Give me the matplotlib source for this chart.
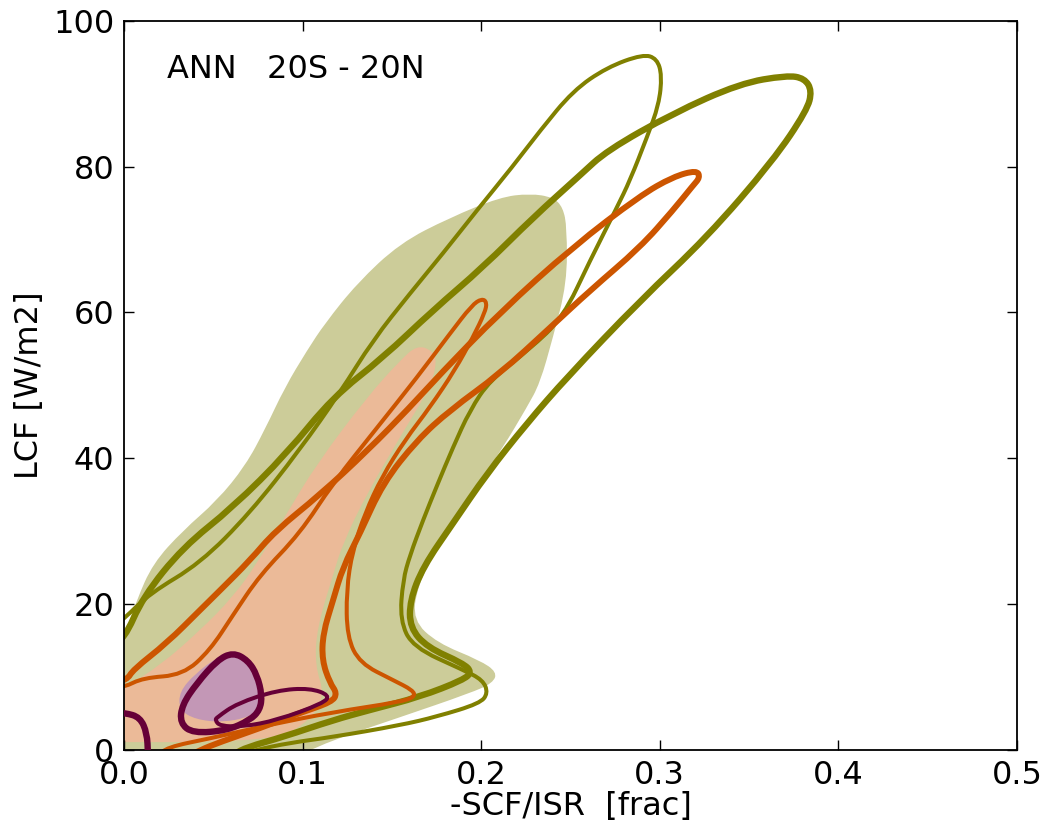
import numpy as np
import matplotlib.pyplot as plt
from matplotlib.path import Path
from matplotlib.patches import PathPatch

# colours
olive = '#808000'
orange = '#cc5500'
purple = '#660038'
khaki = '#cccc99'
salmon = '#ebba98'
lilac = '#c397b6'

# ---- shaded regions (x = -SCF/ISR, y = LCF) ----
khaki_x = [-0.02, -0.02, 0.0, 0.007, 0.0162, 0.033, 0.0521, 0.0680, 0.0790, 0.090, 0.1025, 0.1125,
           0.1305, 0.1545, 0.1825, 0.2105, 0.2273, 0.2402, 0.2458, 0.248, 0.248, 0.2402, 0.2329,
           0.2256, 0.2122, 0.1937, 0.1753, 0.1641, 0.1618, 0.1753, 0.1993, 0.2088, 0.2066, 0.1937,
           0.1545, 0.117, 0.0985, 0.05]
khaki_y = [-2, 14.0, 15.5, 20.5, 25.6, 30.1, 34.2, 39.0, 44.0, 49.7, 54.8, 58.5,
           64.0, 69.5, 73.0, 75.8, 76.3, 75.8, 74.4, 71.6, 64.0, 56.6, 50.3,
           47.0, 41.5, 34.7, 27.8, 22.3, 17.8, 14.7, 12.3, 10.7, 9.2, 7.8,
           4.5, 1.4, -0.7, -2]

salmon_x = [0.1641, 0.1725, 0.1753, 0.1713, 0.1545, 0.1361, 0.1226, 0.117, 0.1081, 0.1069, 0.1125,
            0.1041, 0.0873, 0.0426, 0.009, -0.01, -0.01, 0.0, 0.0202, 0.0426, 0.061, 0.0745,
            0.0913, 0.1081, 0.1361, 0.1545]
salmon_y = [55.5, 54.8, 53.2, 49.7, 42.9, 35.2, 28.4, 24.0, 16.8, 11.6, 7.5,
            4.1, 1.6, 1.1, 1.1, 1.1, 8.6, 8.5, 11.6, 16.4, 21.0, 25.6,
            32.5, 39.3, 48.4, 53.4]

lilac_x = [0.061, 0.0733, 0.0784, 0.077, 0.07, 0.055, 0.04, 0.031, 0.031, 0.04, 0.052]
lilac_y = [13.3, 11.2, 8.5, 6.0, 4.5, 3.8, 4.2, 5.5, 8.0, 10.5, 12.7]

# ---- contour lines ----
olive_thin_x = [-0.01, 0.0, 0.0146, 0.0426, 0.0705, 0.0985, 0.1209, 0.1394, 0.1601, 0.1786, 0.1976,
                0.2176, 0.2329, 0.2514, 0.2704, 0.2906, 0.2984, 0.3012, 0.2995, 0.2928, 0.2833,
                0.276, 0.2609, 0.2458, 0.2273, 0.2049, 0.1937, 0.1842, 0.1753, 0.1674, 0.1601,
                0.1562, 0.1545, 0.1618, 0.1898, 0.201, 0.2038, 0.1993, 0.1753, 0.1545, 0.117,
                0.0929, 0.0733, 0.065]
olive_thin_y = [16.0, 18.0, 21.5, 25.6, 32.5, 41.2, 49.0, 56.2, 62.6, 68.1, 74.0,
                80.0, 84.9, 90.4, 93.6, 95.4, 94.8, 92.5, 88.5, 84.0, 78.1,
                74.4, 67.1, 59.3, 55.0, 50.7, 46.6, 41.5, 36.3, 31.5, 26.7,
                23.3, 17.8, 14.1, 11.0, 9.6, 7.8, 6.4, 4.6, 3.4, 1.8,
                1.0, 0.0, -0.7]

olive_thick_x = [-0.01, 0.0, 0.0106, 0.033, 0.061, 0.0913, 0.117, 0.145, 0.173, 0.201, 0.229,
                 0.2553, 0.2704, 0.3074, 0.3449, 0.3712, 0.381, 0.3852, 0.3824, 0.3634, 0.3264,
                 0.2889, 0.248, 0.2256, 0.2032, 0.1842, 0.1674, 0.1601, 0.1601, 0.1697, 0.1898,
                 0.1948, 0.1898, 0.1657, 0.1377, 0.117, 0.089, 0.0689, 0.062]
olive_thick_y = [14.0, 15.1, 21.0, 27.8, 33.3, 40.7, 48.4, 53.8, 60.3, 66.2, 73.0,
                 78.8, 82.2, 87.3, 91.4, 92.5, 92.1, 90.4, 87.7, 80.8, 70.3,
                 61.6, 51.1, 44.8, 37.9, 31.1, 25.1, 20.5, 16.8, 14.1, 11.9,
                 10.7, 9.6, 7.3, 5.5, 4.1, 1.8, 0.4, -0.5]

orange_thick_x = [-0.01, 0.0017, 0.005, 0.0241, 0.0426, 0.0538, 0.0705, 0.0845, 0.1097, 0.1361,
                  0.1601, 0.1769, 0.2105, 0.2514, 0.2889, 0.3074, 0.3208, 0.3225, 0.3186, 0.3074,
                  0.2889, 0.2609, 0.2385, 0.2105, 0.1825, 0.1641, 0.145, 0.1321, 0.1226, 0.117,
                  0.1114, 0.1109, 0.1153, 0.1193, 0.1165, 0.0985, 0.0761, 0.0538, 0.0426, 0.035]
orange_thick_y = [9.0, 9.6, 11.0, 14.7, 19.2, 21.9, 26.0, 30.0, 35.0, 41.0,
                  47.0, 51.5, 60.0, 69.0, 76.0, 78.6, 79.5, 78.5, 77.4, 74.0,
                  68.9, 63.0, 57.9, 51.6, 46.6, 42.5, 36.6, 29.7, 25.1, 20.5,
                  16.0, 12.3, 9.2, 7.8, 6.6, 5.1, 3.0, 1.1, 0.0, -1.0]

orange_thin_x = [-0.01, 0.0, 0.0106, 0.033, 0.0482, 0.061, 0.0761, 0.0985, 0.117, 0.1417, 0.1641,
                 0.1825, 0.1948, 0.2004, 0.2032, 0.2021, 0.1954, 0.1853, 0.1713, 0.1573, 0.1445,
                 0.1350, 0.1280, 0.1245, 0.1249, 0.1321, 0.1506, 0.1618, 0.1629, 0.1545, 0.117,
                 0.0801, 0.0482, 0.0241, 0.018]
orange_thin_y = [8.5, 8.6, 9.9, 10.3, 13.7, 18.5, 24.0, 29.7, 36.6, 44.2, 51.1,
                 57.1, 61.0, 61.9, 61.4, 60.0, 56.6, 52.1, 47.0, 42.5, 37.5,
                 32.5, 27.4, 21.9, 15.5, 11.9, 9.6, 8.2, 7.3, 6.6, 5.2,
                 3.4, 1.6, 0.4, -1.0]

purple_thick_x = [0.061, 0.0694, 0.0745, 0.0773, 0.0761, 0.0705, 0.0577, 0.0386, 0.0314, 0.0325,
                  0.0409, 0.0521]
purple_thick_y = [13.4, 12.3, 10.3, 7.5, 5.5, 4.1, 2.7, 2.3, 3.7, 6.2, 9.2, 12.3]

purple_thin_x = [0.0521, 0.0633, 0.0857, 0.1041, 0.1153, 0.1114, 0.0857, 0.0666, 0.0538, 0.051]
purple_thin_y = [4.5, 6.4, 8.2, 8.5, 7.5, 6.4, 4.1, 3.2, 3.3, 4.1]

purple_corner_x = [-0.01, 0.0006, 0.009, 0.0129, 0.0134]
purple_corner_y = [5.3, 5.1, 4.5, 2.3, -0.5]


def smooth_path(xs, ys, closed):
    # quadratic bezier through midpoints of the given vertices
    p = np.column_stack([xs, ys])
    n = len(p)
    verts, codes = [], []
    if closed:
        m = (p + np.roll(p, -1, axis=0)) / 2.
        verts.append(m[-1]); codes.append(Path.MOVETO)
        for i in range(n):
            verts += [p[i], m[i]]
            codes += [Path.CURVE3, Path.CURVE3]
        verts.append(m[-1]); codes.append(Path.CLOSEPOLY)
    else:
        m = (p[:-1] + p[1:]) / 2.
        verts += [p[0], m[0]]
        codes += [Path.MOVETO, Path.LINETO]
        for i in range(1, n - 1):
            verts += [p[i], m[i]]
            codes += [Path.CURVE3, Path.CURVE3]
        verts.append(p[-1]); codes.append(Path.LINETO)
    return Path(verts, codes)


fig = plt.figure(figsize=(10.42, 8.27), dpi=100)
ax = fig.add_axes([0.119, 0.093, 0.857, 0.882])

ax.add_patch(PathPatch(smooth_path(khaki_x, khaki_y, True), fc=khaki, ec='none', zorder=1))
ax.add_patch(PathPatch(smooth_path(salmon_x, salmon_y, True), fc=salmon, ec='none', zorder=1.1))
ax.add_patch(PathPatch(smooth_path(lilac_x, lilac_y, True), fc=lilac, ec='none', zorder=1.2))

lines = [
    (olive_thin_x, olive_thin_y, False, olive, 2.9),
    (olive_thick_x, olive_thick_y, False, olive, 4.6),
    (orange_thin_x, orange_thin_y, False, orange, 2.9),
    (orange_thick_x, orange_thick_y, False, orange, 4.3),
    (purple_thin_x, purple_thin_y, True, purple, 2.9),
    (purple_thick_x, purple_thick_y, True, purple, 4.6),
    (purple_corner_x, purple_corner_y, False, purple, 4.6),
]
for k, (xs, ys, closed, c, lw) in enumerate(lines):
    ax.add_patch(PathPatch(smooth_path(xs, ys, closed), fc='none', ec=c, lw=lw,
                           capstyle='round', joinstyle='round', zorder=2 + k * 0.1))

ax.set_xlim(0, 0.5)
ax.set_ylim(0, 100)
ax.set_xticks([0.0, 0.1, 0.2, 0.3, 0.4, 0.5])
ax.set_yticks([0, 20, 40, 60, 80, 100])
ax.tick_params(direction='in', length=7, width=1, top=True, right=True, labelsize=23, pad=7)
for s in ax.spines.values():
    s.set_linewidth(1.3)
ax.set_xlabel('-SCF/ISR  [frac]', fontsize=23, labelpad=0)
ax.set_ylabel('LCF [W/m2]', fontsize=23, labelpad=6)
ax.text(0.048, 0.933, 'ANN   20S - 20N', transform=ax.transAxes, fontsize=23, va='center', ha='left')

fig.savefig('out.png', dpi=100)
